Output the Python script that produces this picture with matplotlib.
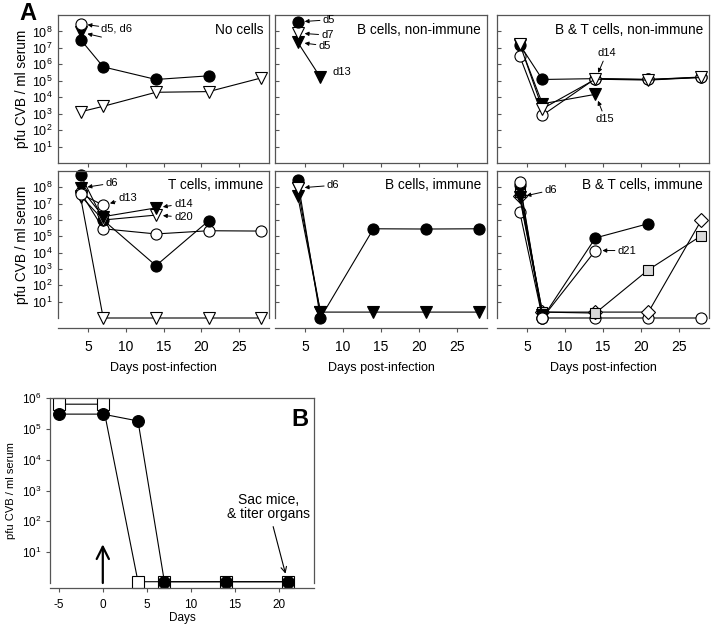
import matplotlib
matplotlib.use("Agg")
import matplotlib.pyplot as plt
from matplotlib.ticker import FixedLocator, FuncFormatter

plt.rcParams['font.family'] = ['Liberation Sans', 'DejaVu Sans']
plt.rcParams['mathtext.fontset'] = 'custom'
plt.rcParams['mathtext.rm'] = 'Liberation Sans'
plt.rcParams['mathtext.it'] = 'Liberation Sans'
plt.rcParams['axes.unicode_minus'] = False

# ---------------- data ----------------
days_a = [4, 7, 14, 21, 28]
days_b = [-5, 0, 4, 7, 14, 21]

# Panel 1: No cells
p1_open_circle = [2.9e8]
p1_filled_tri = [9e7]
p1_filled_circle = [3.2e7, 7e5, 1.2e5, 2e5]
p1_open_tri = [1.3e3, 2.8e3, 2e4, 2.2e4, 1.5e5]

# Panel 2: B cells, non-immune
p2_filled_circle = [3.8e8]
p2_open_tri = [8e7]
p2_filled_tri = [2.2e7, 1.6e5]

# Panel 3: B & T cells, non-immune
p3_filled_circle = [1.6e7, 1.2e5, 1.35e5, 1.2e5, 1.6e5]
p3_open_circle = [3.2e6, 8e2, 1.35e5, 1.2e5, 1.7e5]
p3_open_tri = [1.8e7, 2e3, 1.25e5, 1.1e5, 1.6e5]
p3_filled_tri = [1.6e7, 4e3, 1.5e4]

# Panel 4: T cells, immune
p4_filled_circle = [5.8e8, 1e6, 1.6e3, 9e5]
p4_open_circle = [5e7, 2.9e5, 1.4e5, 2.2e5, 2.1e5]
p4_open_circle_d13 = [4e7, 8e6]
p4_filled_tri_d14 = [9e7, 1.6e6, 5.5e6]
p4_open_tri_d20 = [3e7, 1e6, 2e6]
p4_open_tri_low = [2.5e7, 1, 1, 1, 1]

# Panel 5: B cells, immune
p5_filled_circle = [2.8e8, 1.0, 2.9e5, 2.8e5, 2.9e5]
p5_filled_tri = [3e7, 2.3, 2.3, 2.3, 2.3]
p5_open_tri = [9e7, 2.3]

# Panel 6: B & T cells, immune
p6_filled_circle = [1.4e8, 1.0, 8e4, 6e5]
p6_open_circle_d21 = [2.1e8, 1.0, 1.35e4]
p6_square = [5e7, 2.3, 2.0, 9e2, 1.1e5]
p6_diamond = [3e7, 2.3, 2.3, 2.3, 1e6]
p6_open_circle_low = [3.2e6, 1, 1, 1, 1]
p6_filled_tri = [2.5e7, 1.5]

# Panel B
pb_filled_circle = [3e5, 3e5, 1.8e5, 1.1, 1.1, 1.1]
pb_open_square = [6.3e5, 6.3e5, 1.1, 1.1, 1.1, 1.1]

titles = ["No cells", "B cells, non-immune", "B & T cells, non-immune",
          "T cells, immune", "B cells, immune", "B & T cells, immune"]
ytick_exp_a = [1, 2, 3, 4, 5, 6, 7, 8]
ytick_exp_b = [1, 2, 3, 4, 5, 6]
xticks_a = [5, 10, 15, 20, 25]
xticks_b = [-5, 0, 5, 10, 15, 20]

# ---------------- figure ----------------
W, H = 720, 628
fig = plt.figure(figsize=(7.2, 6.28), dpi=100)


def px_axes(left, top, right, bottom):
    return fig.add_axes([left / W, 1 - bottom / H, (right - left) / W, (bottom - top) / H])


SP = '#555555'
LW = 0.8
MS = 8
EW = 0.8


def sty(marker, face, ms=MS):
    return dict(marker=marker, ms=ms, mfc=face, mec='black', mew=EW,
                color='black', lw=LW, clip_on=False)


def fmt_pow(v, pos):
    import math
    e = int(round(math.log10(v)))
    return r'$\mathregular{10^{%d}}$' % e


cols = [(58, 269), (275, 487), (497, 709)]
rows = [(15, 163), (171, 318)]
axes = []
for r, (top, bot) in enumerate(rows):
    for c, (l, rr) in enumerate(cols):
        ax = px_axes(l, top, rr, bot)
        ax.set_yscale('log')
        ax.set_ylim(1, 1e9)
        ax.set_xlim(1, 29)
        ax.yaxis.set_major_locator(FixedLocator([10.0 ** e for e in ytick_exp_a]))
        ax.yaxis.set_minor_locator(FixedLocator([]))
        ax.yaxis.set_major_formatter(FuncFormatter(fmt_pow))
        ax.set_xticks(xticks_a)
        for s in ax.spines.values():
            s.set_color(SP)
            s.set_linewidth(0.9)
        ax.tick_params(axis='y', direction='in', length=3, color=SP, labelsize=9, pad=4)
        ax.tick_params(axis='x', direction='out', length=3, color=SP, labelsize=10, pad=5)
        if c != 0:
            ax.tick_params(axis='y', labelleft=False)
        else:
            ax.set_ylabel('pfu CVB / ml serum', fontsize=9.8, labelpad=2)
        if r == 0:
            ax.tick_params(axis='x', labelbottom=False)
        else:
            ax.spines['bottom'].set_position(('outward', 7.5))
            ax.set_xlabel('Days post-infection', fontsize=9, labelpad=6)
        ax.text(0.972, 0.9 if r == 0 else 0.905, titles[r * 3 + c], transform=ax.transAxes,
                ha='right', va='center', fontsize=9.8)
        axes.append(ax)

ax1, ax2, ax3, ax4, ax5, ax6 = axes

AP = dict(arrowstyle='-|>', lw=0.7, color='black', mutation_scale=6, shrinkA=0, shrinkB=5)
AFS = 8


def ann(ax, text, x, y, dx, dy, ha='left', arrow=True):
    ax.annotate(text, xy=(x, y), xytext=(dx, dy), textcoords='offset points',
                ha=ha, va='center', fontsize=AFS,
                arrowprops=AP if arrow else None)


# Panel 1
ax1.plot(days_a[:4], p1_filled_circle, **sty('o', 'black'))
ax1.plot(days_a, p1_open_tri, **sty('v', 'white', 9))
ax1.plot(days_a[:1], p1_filled_tri, **sty('v', 'black', 9))
ax1.plot(days_a[:1], p1_open_circle, **sty('o', 'white'))
ann(ax1, 'd5, d6', 4, p1_open_circle[0], 15, -3.5)
ann(ax1, '', 4, p1_filled_tri[0], 15, -3.5)

# Panel 2
ax2.plot(days_a[:2], p2_filled_tri, **sty('v', 'black', 9))
ax2.plot(days_a[:1], p2_open_tri, **sty('v', 'white', 9))
ax2.plot(days_a[:1], p2_filled_circle, **sty('o', 'black'))
ann(ax2, 'd5', 4, p2_filled_circle[0], 18, 1.5)
ann(ax2, 'd7', 4, p2_open_tri[0], 17, -1.5)
ann(ax2, 'd5', 4, p2_filled_tri[0], 15, -2.5)
ann(ax2, 'd13', 7, p2_filled_tri[1], 9, 4, arrow=False)

# Panel 3
ax3.plot(days_a, p3_filled_circle, **sty('o', 'black'))
ax3.plot(days_a[:3], p3_filled_tri, **sty('v', 'black', 9))
ax3.plot(days_a, p3_open_circle, **sty('o', 'white'))
ax3.plot(days_a, p3_open_tri, **sty('v', 'white', 9))
ax3.annotate('d14', xy=(14, p3_open_tri[2]), xytext=(8, 15), textcoords='offset points',
             ha='center', va='bottom', fontsize=AFS, arrowprops=AP)
ax3.annotate('d15', xy=(14, p3_filled_tri[2]), xytext=(7, -14), textcoords='offset points',
             ha='center', va='top', fontsize=AFS, arrowprops=AP)

# Panel 4
ax4.plot(days_a, p4_open_tri_low, **sty('v', 'white', 9))
ax4.plot(days_a, p4_open_circle, **sty('o', 'white'))
ax4.plot(days_a[:4], p4_filled_circle, **sty('o', 'black'))
ax4.plot(days_a[:3], p4_open_tri_d20, **sty('v', 'white', 9))
ax4.plot(days_a[:3], p4_filled_tri_d14, **sty('v', 'black', 9))
ax4.plot(days_a[:2], p4_open_circle_d13, **sty('o', 'white'))
ann(ax4, 'd6', 4, p4_filled_tri_d14[0], 18, 3.5)
ann(ax4, 'd13', 7, p4_open_circle_d13[1], 11, 5)
ann(ax4, 'd14', 14, p4_filled_tri_d14[2], 13, 3)
ann(ax4, 'd20', 14, p4_open_tri_d20[2], 13, -1.5)

# Panel 5
ax5.plot(days_a[:2], p5_open_tri, **sty('v', 'white', 9))
ax5.plot(days_a, p5_filled_tri, **sty('v', 'black', 9))
ax5.plot(days_a, p5_filled_circle, **sty('o', 'black'))
ax5.plot(days_a[:1], p5_open_tri[:1], **sty('v', 'white', 9))
ann(ax5, 'd6', 4, p5_open_tri[0], 21, 2)

# Panel 6
ax6.plot(days_a, p6_open_circle_low, **sty('o', 'white'))
ax6.plot(days_a, p6_diamond, **sty('D', 'white', 7))
ax6.plot(days_a, p6_square, **sty('s', '#d9d9d9', 7.5))
ax6.plot(days_a[:2], p6_filled_tri, **sty('v', 'black', 9))
ax6.plot(days_a[:4], p6_filled_circle, **sty('o', 'black'))
ax6.plot(days_a[:3], p6_open_circle_d21, **sty('o', 'white'))
ann(ax6, 'd6', 4, p6_filled_tri[0], 18, 5)
ann(ax6, 'd21', 14, p6_open_circle_d21[2], 16, 0)

# ---------------- Panel B ----------------
axb = px_axes(50, 398, 314, 583)
axb.set_yscale('log')
axb.set_ylim(1, 1e6)
axb.set_xlim(-6, 24)
axb.yaxis.set_major_locator(FixedLocator([10.0 ** e for e in ytick_exp_b]))
axb.yaxis.set_minor_locator(FixedLocator([]))
axb.yaxis.set_major_formatter(FuncFormatter(fmt_pow))
axb.set_xticks(xticks_b)
for s in axb.spines.values():
    s.set_color(SP)
    s.set_linewidth(0.9)
axb.spines['bottom'].set_position(('outward', 3.6))
axb.tick_params(axis='both', direction='out', length=3, color=SP, labelsize=8.5, pad=3)
axb.tick_params(axis='x', pad=5)
axb.set_ylabel('pfu CVB / ml serum', fontsize=8, labelpad=4)
axb.set_xlabel('Days', fontsize=8.5, labelpad=1)

axb.plot(days_b, pb_open_square, **sty('s', 'white', 8.5))
axb.plot(days_b, pb_filled_circle, **sty('o', 'black', 8.5))

axb.annotate('', xy=(0, 18), xytext=(0, 1.0),
             arrowprops=dict(arrowstyle='->', lw=1.6, color='black', mutation_scale=22,
                             shrinkA=0, shrinkB=0))
axb.annotate('Sac mice,\n& titer organs', xy=(21, 1.1), xytext=(0.826, 0.41),
             textcoords='axes fraction', ha='center', va='center', fontsize=10,
             linespacing=1.0,
             arrowprops=dict(arrowstyle='->', lw=0.8, color='black', mutation_scale=10,
                             shrinkA=2, shrinkB=6))
axb.text(0.945, 0.885, 'B', transform=axb.transAxes, ha='center', va='center',
         fontsize=17, fontweight='bold')

fig.text(28 / W, 1 - 13 / H, 'A', ha='center', va='center', fontsize=17, fontweight='bold')

fig.savefig('out.png', dpi=100)
